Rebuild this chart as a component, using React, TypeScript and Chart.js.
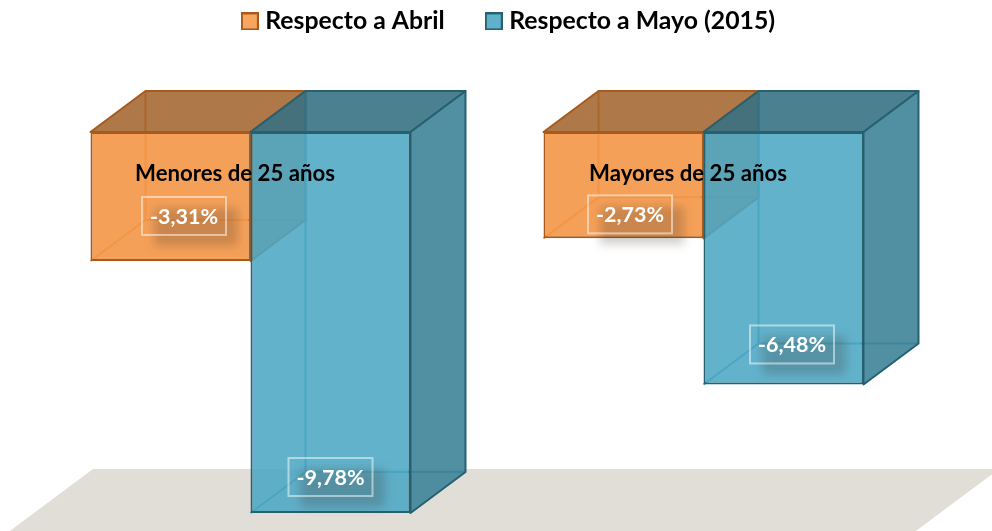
import React, { useEffect, useRef } from "react";
import { Chart, registerables } from "chart.js";

Chart.register(...registerables);

const categories = ["Menores de 25 años", "Mayores de 25 años"];
const respectoAbril = [-3.31, -2.73];
const respectoMayo = [-9.78, -6.48];
const seriesNames = ["Respecto a Abril", "Respecto a Mayo (2015)"];

const FONT = "Lato, Carlito, sans-serif";
const DEPTH_X = 55;
const DEPTH_Y = 41;
const FLOOR_VALUE = -8.65;

const styles = [
  {
    front: "rgba(244,150,70,0.9)",
    top: "rgba(160,96,40,0.85)",
    side: "rgba(190,115,50,0.85)",
    edge: "#A8591B",
    inner: "rgba(226,132,52,0.9)",
    swatch: "#F7A65F",
  },
  {
    front: "rgba(76,167,197,0.88)",
    top: "rgba(50,110,130,0.88)",
    side: "rgba(62,131,153,0.9)",
    edge: "#27606F",
    inner: "rgba(50,140,170,0.9)",
    swatch: "#5EB0CB",
  },
];

// label box centre, relative to the centre of the bar / its lower edge
const labelOffsets = [
  [{ dx: 13.5, dy: -45 }, { dx: 6.5, dy: -24 }],
  [{ dx: 0, dy: -36 }, { dx: 8.5, dy: -40 }],
];

const swatch = (fill: string, edge: string) => {
  const c = document.createElement("canvas");
  c.width = 18;
  c.height = 18;
  const g = c.getContext("2d")!;
  g.fillStyle = fill;
  g.fillRect(0, 0, 18, 18);
  g.strokeStyle = edge;
  g.lineWidth = 2;
  g.strokeRect(1, 1, 16, 16);
  return c;
};

const poly = (ctx: CanvasRenderingContext2D, pts: number[][]) => {
  ctx.beginPath();
  pts.forEach(([x, y], i) => (i ? ctx.lineTo(x, y) : ctx.moveTo(x, y)));
  ctx.closePath();
};

const legendShift = {
  id: "legendShift",
  afterLayout(chart: any) {
    const l = chart.legend;
    l.left += 34;
    l.right += 34;
    l.top = -37;
  },
};

const bars3d = {
  id: "bars3d",
  beforeDatasetsDraw(chart: any) {
    const ctx: CanvasRenderingContext2D = chart.ctx;
    const { chartArea, scales } = chart;
    // floor
    const fy = scales.y.getPixelForValue(FLOOR_VALUE);
    const h = chart.height - fy;
    const shift = (h * DEPTH_X) / DEPTH_Y;
    const fl = chartArea.left + 69;
    const fr = chartArea.right + 69;
    ctx.save();
    ctx.fillStyle = "#E0DED7";
    poly(ctx, [
      [fl, fy],
      [fr, fy],
      [fr - shift, fy + h],
      [fl - shift, fy + h],
    ]);
    ctx.fill();
    ctx.restore();

    chart.data.datasets.forEach((_: any, di: number) => {
      const st = styles[di];
      chart.getDatasetMeta(di).data.forEach((bar: any) => {
        const { x, y, base, width } = bar.getProps(["x", "y", "base", "width"]);
        const l = x - width / 2;
        const r = x + width / 2;
        const t = base;
        const b = y;
        ctx.save();
        ctx.lineJoin = "round";
        // inner, back edges
        ctx.strokeStyle = st.inner;
        ctx.lineWidth = 2;
        ctx.beginPath();
        ctx.moveTo(l + DEPTH_X, t - DEPTH_Y);
        ctx.lineTo(l + DEPTH_X, b - DEPTH_Y);
        ctx.lineTo(r + DEPTH_X, b - DEPTH_Y);
        ctx.moveTo(l + DEPTH_X, b - DEPTH_Y);
        ctx.lineTo(l, b);
        ctx.stroke();
        // top and side faces
        ctx.strokeStyle = st.edge;
        ctx.fillStyle = st.top;
        poly(ctx, [
          [l, t],
          [l + DEPTH_X, t - DEPTH_Y],
          [r + DEPTH_X, t - DEPTH_Y],
          [r, t],
        ]);
        ctx.fill();
        ctx.stroke();
        ctx.fillStyle = st.side;
        poly(ctx, [
          [r, t],
          [r + DEPTH_X, t - DEPTH_Y],
          [r + DEPTH_X, b - DEPTH_Y],
          [r, b],
        ]);
        ctx.fill();
        ctx.stroke();
        ctx.restore();
        bar.draw(ctx, chartArea);
      });
    });
    return false;
  },
};

const overlays = {
  id: "overlays",
  afterDraw(chart: any) {
    const ctx: CanvasRenderingContext2D = chart.ctx;
    // shadows + value boxes
    const boxW = 84;
    const boxH = 38;
    chart.data.datasets.forEach((ds: any, di: number) => {
      chart.getDatasetMeta(di).data.forEach((bar: any, i: number) => {
        const { x, y } = bar.getProps(["x", "y"]);
        const off = labelOffsets[di][i];
        const cx = x + off.dx;
        const cy = y + off.dy;
        ctx.save();
        ctx.filter = "blur(5px)";
        ctx.fillStyle = "rgba(50,40,30,0.22)";
        ctx.fillRect(cx - boxW / 2 + 12, cy - boxH / 2 + 11, boxW, boxH);
        ctx.restore();
        ctx.save();
        ctx.strokeStyle = "rgba(255,255,255,0.5)";
        ctx.lineWidth = 2;
        ctx.strokeRect(cx - boxW / 2, cy - boxH / 2, boxW, boxH);
        ctx.fillStyle = "#FFFFFF";
        ctx.font = `700 21.5px ${FONT}`;
        ctx.textAlign = "center";
        ctx.textBaseline = "middle";
        ctx.fillText(
          ds.data[i].toFixed(2).replace(".", ",") + "%",
          cx,
          cy + 1,
        );
        ctx.restore();
      });
    });
    // category captions
    const xs = chart.scales.x;
    const y0 = chart.scales.y.getPixelForValue(0);
    chart.data.labels.forEach((lab: string, i: number) => {
      ctx.save();
      ctx.fillStyle = "#000000";
      ctx.font = `700 22.2px ${FONT}`;
      ctx.textAlign = "center";
      ctx.textBaseline = "middle";
      ctx.fillText(lab, xs.getPixelForValue(i) - 15.5, y0 + 42);
      ctx.restore();
    });
  },
};

export default function App() {
  const ref = useRef<HTMLCanvasElement>(null);
  useEffect(() => {
    document.body.style.margin = "0";
    const chart = new Chart(ref.current!, {
      type: "bar",
      data: {
        labels: categories,
        datasets: [
          {
            label: seriesNames[0],
            data: respectoAbril,
            backgroundColor: styles[0].front,
            borderColor: styles[0].edge,
            borderWidth: 2,
            borderSkipped: false,
          },
          {
            label: seriesNames[1],
            data: respectoMayo,
            backgroundColor: styles[1].front,
            borderColor: styles[1].edge,
            borderWidth: 2,
            borderSkipped: false,
          },
        ],
      },
      options: {
        animation: false,
        responsive: false,
        layout: { padding: { left: 24, right: 62, top: 51.2, bottom: 9.4 } },
        datasets: { bar: { categoryPercentage: 0.7064, barPercentage: 1 } },
        scales: {
          x: { display: false },
          y: { display: false, min: -10, max: 0 },
        },
        plugins: {
          tooltip: { enabled: false },
          legend: {
            display: true,
            position: "top",
            labels: {
              color: "#000000",
              font: { family: FONT, size: 24.8, weight: "bold" },
              usePointStyle: true,
              pointStyleWidth: 6,
              padding: 46,
              generateLabels: (c: any) =>
                Chart.defaults.plugins.legend.labels
                  .generateLabels(c)
                  .map((it: any, i: number) => ({
                    ...it,
                    pointStyle: swatch(styles[i].swatch, styles[i].edge),
                  })),
            },
          },
        },
      },
      plugins: [legendShift, bars3d, overlays],
    } as any);
    return () => chart.destroy();
  }, []);
  return <canvas ref={ref} width={992} height={531} style={{ display: "block" }} />;
}
